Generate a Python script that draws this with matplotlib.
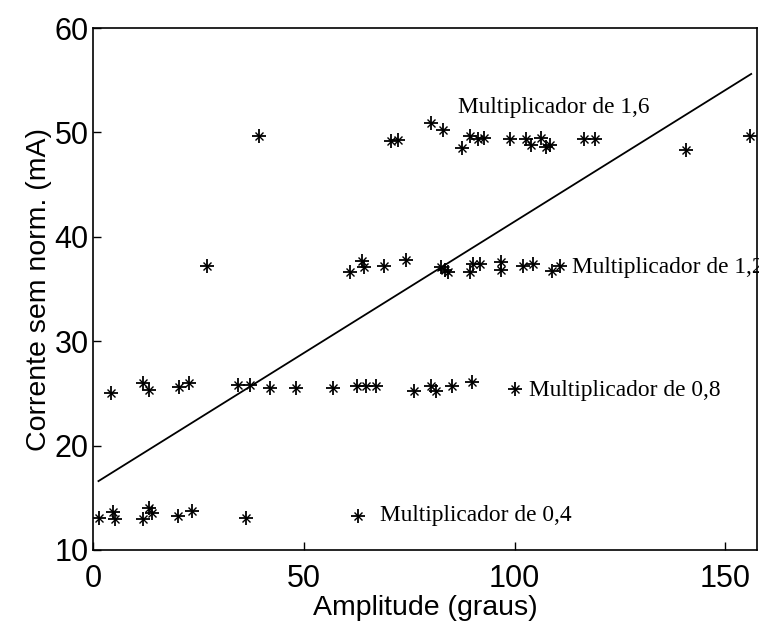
import matplotlib.pyplot as plt

# pontos (amplitude em graus, corrente em mA)
amp_04 = [1.5, 4.7, 5.2, 11.9, 13.3, 13.9, 20.1, 23.4, 36.4, 62.9]
cor_04 = [13.1, 13.6, 13.0, 13.0, 14.0, 13.5, 13.3, 13.75, 13.1, 13.3]

amp_08 = [4.2, 11.8, 13.3, 20.5, 22.8, 34.4, 37.2, 42.1, 48.1, 56.9,
          62.5, 64.7, 67.1, 76.1, 80.1, 81.4, 85.2, 90.0, 100.0]
cor_08 = [25.0, 26.0, 25.3, 25.6, 26.0, 25.8, 25.8, 25.5, 25.5, 25.5,
          25.7, 25.7, 25.7, 25.2, 25.7, 25.2, 25.7, 26.1, 25.4]

amp_12 = [27.1, 60.9, 63.9, 64.2, 69.0, 74.2, 82.6, 83.4, 84.2, 89.3,
          90.1, 91.7, 96.8, 96.8, 102.0, 104.3, 108.9, 110.7]
cor_12 = [37.2, 36.6, 37.7, 37.1, 37.2, 37.8, 37.1, 36.8, 36.6, 36.6,
          37.4, 37.4, 37.6, 36.8, 37.2, 37.4, 36.7, 37.2]

amp_16 = [39.3, 70.6, 72.3, 80.2, 83.0, 87.4, 89.3, 91.3, 92.7, 98.8,
          102.6, 103.8, 106.2, 107.5, 108.3, 116.4, 119.0, 140.7, 155.9]
cor_16 = [49.7, 49.2, 49.3, 50.9, 50.2, 48.5, 49.7, 49.4, 49.5, 49.4,
          49.4, 48.8, 49.5, 48.6, 48.8, 49.4, 49.4, 48.3, 49.7]

# reta de ajuste
fit_x = [1.3, 156.1]
fit_y = [16.6, 55.6]

# rótulos (texto, x, y)
labels = [("Multiplicador de 1,6", 86.5, 52.4),
          ("Multiplicador de 1,2", 113.5, 37.1),
          ("Multiplicador de 0,8", 103.5, 25.3),
          ("Multiplicador de 0,4", 68.0, 13.3)]

fig = plt.figure(figsize=(7.59, 6.24), dpi=100)
ax = fig.add_axes([0.1225, 0.1186, 0.875, 0.8365])

xs = amp_04 + amp_08 + amp_12 + amp_16
ys = cor_04 + cor_08 + cor_12 + cor_16
ax.plot(xs, ys, linestyle='None', marker='+', markersize=10, mew=1.3, color='black')
ax.plot(xs, ys, linestyle='None', marker='x', markersize=6, mew=1.0, color='black')
ax.plot(fit_x, fit_y, color='black', linewidth=1.3)

for txt, tx, ty in labels:
    ax.text(tx, ty, txt, family='Liberation Serif', fontsize=16.8, va='center', ha='left')

ax.set_xlim(0, 157.5)
ax.set_ylim(10, 60)
ax.set_xticks([0, 50, 100, 150])
ax.set_yticks([10, 20, 30, 40, 50, 60])
ax.tick_params(direction='in', length=6, width=1, labelsize=22)
ax.tick_params(axis='x', pad=10)
ax.tick_params(axis='y', pad=3)
for lab in ax.get_xticklabels() + ax.get_yticklabels():
    lab.set_family('Liberation Sans')
for sp in ax.spines.values():
    sp.set_linewidth(1.2)

ax.set_xlabel("Amplitude (graus)", family='Liberation Sans', fontsize=20.5, labelpad=1)
ax.set_ylabel("Corrente sem norm. (mA)", family='Liberation Sans', fontsize=20.5, labelpad=2)

fig.savefig("out.png", dpi=100)
